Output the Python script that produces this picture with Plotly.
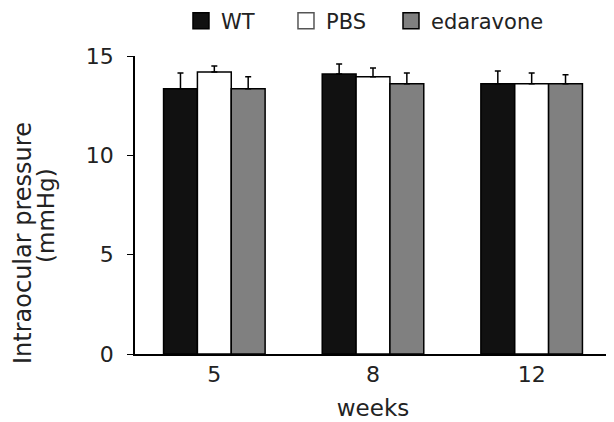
import plotly.graph_objects as go

weeks = ["5", "8", "12"]
series_names = ["WT", "PBS", "edaravone"]
wt_vals = [13.35, 14.1, 13.6]
wt_err = [0.8, 0.5, 0.65]
pbs_vals = [14.2, 13.95, 13.6]
pbs_err = [0.3, 0.45, 0.55]
eda_vals = [13.35, 13.6, 13.6]
eda_err = [0.6, 0.55, 0.45]
colors = ["#111111", "#ffffff", "#808080"]
y_title_lines = ["Intraocular pressure", "(mmHg)"]
x_title = "weeks"

values = [wt_vals, pbs_vals, eda_vals]
errors = [wt_err, pbs_err, eda_err]
legend_ids = ["legend", "legend2", "legend3"]
legend_x = [0.0966, 0.3172, 0.5378]

FONT = "DejaVu Sans"
fig = go.Figure()
for name, vals, errs, col in zip(series_names, values, errors, colors):
    fig.add_trace(go.Bar(
        x=weeks, y=vals, name=name, showlegend=False,
        marker=dict(color=col, line=dict(color="#000000", width=1.5)),
        error_y=dict(type="data", array=errs, arrayminus=[0]*len(errs),
                     symmetric=False, color="#000000", thickness=1.5, width=3),
    ))
for name, col, lid in zip(series_names, colors, legend_ids):
    fig.add_trace(go.Scatter(
        x=[None], y=[None], mode="markers", name=name, legend=lid,
        marker=dict(symbol="square", size=19, color=col,
                    line=dict(color="#000000" if col != "#ffffff" else "#555555", width=1.5)),
    ))

leg_common = dict(orientation="h", yref="container", y=0.9686, yanchor="middle",
                  xanchor="left", font=dict(size=21, color="#222222"),
                  bgcolor="rgba(0,0,0,0)")

fig.add_annotation(text=y_title_lines[0], xref="paper", yref="paper",
                   x=-0.2353, y=0.3725, xanchor="center", yanchor="middle",
                   textangle=-90, showarrow=False,
                   font=dict(size=24, color="#222222"))
fig.add_annotation(text=y_title_lines[1], xref="paper", yref="paper",
                   x=-0.187, y=0.4664, xanchor="center", yanchor="middle",
                   textangle=-90, showarrow=False,
                   font=dict(size=23, color="#222222"))

fig.update_layout(
    width=606, height=414,
    margin=dict(l=127, r=3, t=48, b=68),
    paper_bgcolor="white", plot_bgcolor="white",
    barmode="group", bargap=0.36, bargroupgap=0,
    font=dict(family=FONT, size=22, color="#222222"),
    legend=dict(x=legend_x[0], **leg_common),
    legend2=dict(x=legend_x[1], **leg_common),
    legend3=dict(x=legend_x[2], **leg_common),
    xaxis=dict(range=[-0.5, 2.5], showline=True, linecolor="#000000", linewidth=1.5,
               ticks="", showgrid=False, zeroline=False,
               title=dict(text=x_title, standoff=14, font=dict(size=23))),
    yaxis=dict(range=[0, 15], tickvals=[0, 5, 10, 15], showline=True,
               linecolor="#000000", linewidth=1.5, ticks="outside", ticklen=6,
               tickcolor="#000000", showgrid=False, zeroline=False,
               ticklabelstandoff=9),
)
fig.write_html("out.html")
